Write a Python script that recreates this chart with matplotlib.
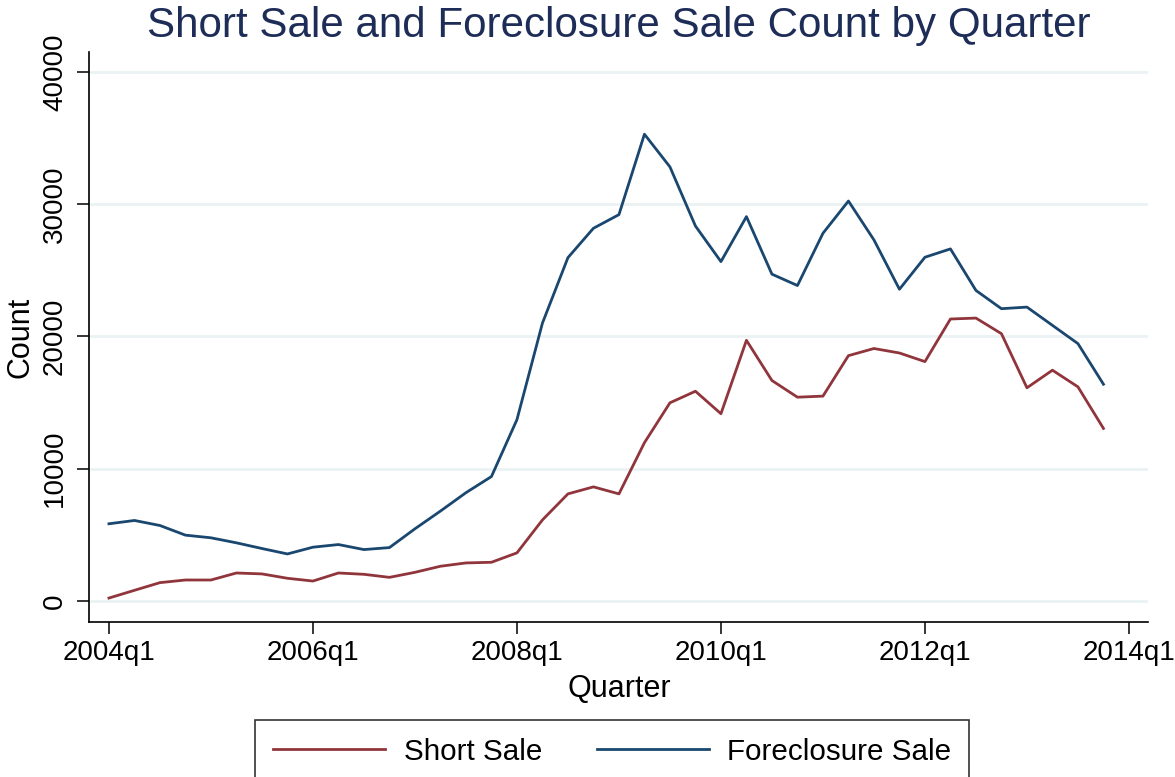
import numpy as np
import matplotlib
matplotlib.use("Agg")
import matplotlib.pyplot as plt

# quarterly counts, 2004q1 .. 2013q4
quarters = [f"{y}q{q}" for y in range(2004, 2014) for q in range(1, 5)]
short_sale = [215, 800, 1380, 1580, 1580, 2110, 2040, 1710, 1500, 2110,
              2010, 1780, 2160, 2620, 2870, 2920, 3630, 6120, 8090, 8620,
              8090, 11960, 14975, 15850, 14150, 19700, 16660, 15400, 15480, 18540,
              19080, 18740, 18090, 21310, 21380, 20200, 16110, 17440, 16180, 13040]
foreclosure_sale = [5830, 6080, 5700, 4970, 4770, 4390, 3960, 3550, 4060, 4260,
                    3880, 4030, 5450, 6790, 8180, 9400, 13700, 21000, 25950, 28170,
                    29200, 35280, 32810, 28340, 25650, 29050, 24700, 23840, 27790, 30230,
                    27290, 23560, 25980, 26610, 23470, 22090, 22210, 20830, 19450, 16380]
xtick_pos = [0, 8, 16, 24, 32, 40]
xtick_labels = ["2004q1", "2006q1", "2008q1", "2010q1", "2012q1", "2014q1"]
yticks = [0, 10000, 20000, 30000, 40000]

plt.rcParams["font.family"] = ["Liberation Sans", "DejaVu Sans"]

fig = plt.figure(figsize=(11.75, 7.77), dpi=100)
ax = fig.add_axes([0.076, 0.2, 0.9013, 0.7335])

x = np.arange(len(quarters))
ax.plot(x, short_sale, color="#90353b", lw=2.0, label="Short Sale")
ax.plot(x, foreclosure_sale, color="#1a476f", lw=2.0, label="Foreclosure Sale")

ax.set_xlim(-0.77, 40.76)
ax.set_ylim(-1565, 41520)
ax.set_xticks(xtick_pos)
ax.set_xticklabels(xtick_labels)
ax.set_yticks(yticks)
ax.set_yticklabels([str(v) for v in yticks], rotation=90, va="center")

ax.grid(axis="y", color="#eaf2f3", lw=2)
ax.set_axisbelow(True)
for s in ["top", "right"]:
    ax.spines[s].set_visible(False)
for s in ["left", "bottom"]:
    ax.spines[s].set_linewidth(1.2)
ax.tick_params(length=8.4, width=1.1, labelsize=20)
ax.tick_params(axis="x", pad=4.5)
ax.tick_params(axis="y", pad=7)

ax.set_xlabel("Quarter", fontsize=22)
ax.xaxis.set_label_coords(0.5, -0.0915)
fig.text(20 / 1175, 1 - 337 / 777, "Count", fontsize=22, rotation=90,
         ha="center", va="center")
ax.set_title("Short Sale and Foreclosure Sale Count by Quarter",
             fontsize=30.3, color="#1e2d58", pad=10.8)

leg = fig.legend(loc="upper left", bbox_to_anchor=(255 / 1175, 1 - 720 / 777), ncol=2,
                 fontsize=21.3, frameon=True, fancybox=False, edgecolor="black",
                 handlelength=3.8, handletextpad=0.62, columnspacing=1.85,
                 borderpad=0.6, borderaxespad=0)
leg.get_frame().set_linewidth(1.2)

fig.savefig("out.png", dpi=100)
